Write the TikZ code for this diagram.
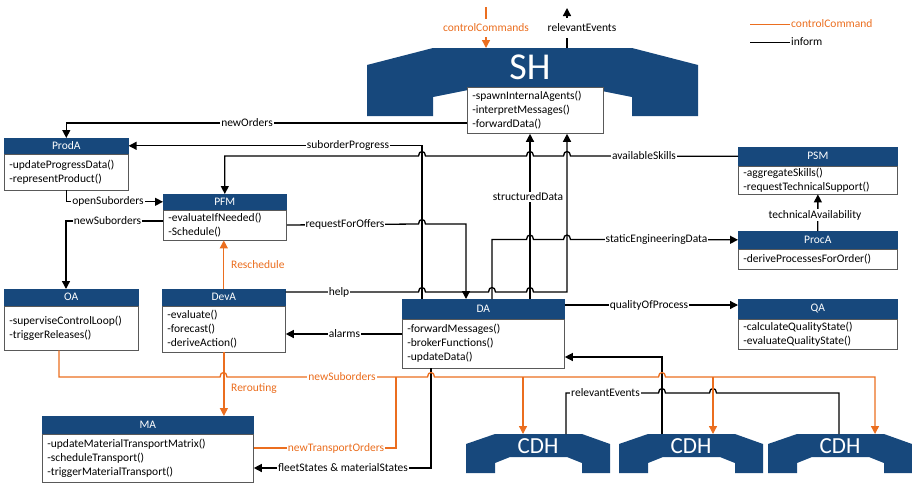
\documentclass[tikz,border=0pt]{standalone}
\usepackage{fontspec}
\setmainfont{Carlito}
\usetikzlibrary{arrows.meta}
\definecolor{blueC}{HTML}{17487C}
\definecolor{orC}{HTML}{EB6E1F}
\definecolor{boxC}{HTML}{595959}
\newcommand\lblfont{\fontsize{11.5}{14}\selectfont}
\newcommand\ClassBox[8]{%
  \node[hdr, minimum width=#4, minimum height=#5] (#1H) at (#2,#3) {#7};
  \pgfmathsetmacro\cbtw{#4-10}%
  \node[body, text width=\cbtw pt, minimum height=#6] (#1) at (#1H.south west) {#8};
}
\newcommand\DrawCDH[2]{%
  \fill[blueC] (#2,444) -- (#2+29,434) -- (#2+116,434) -- (#2+144,444) -- (#2+144,473) -- (#2+116,473) -- (#2+116,463) -- (#2+101,457) -- (#2+44,457) -- (#2+29,463) -- (#2+29,473) -- (#2,473) -- cycle;
  \node[inner sep=0pt, minimum width=144, minimum height=39, anchor=north west] (#1b) at (#2,434) {};
  \node[cdhtxt] (#1) at (#2+72,446) {CDH};
}
\begin{document}
\begin{tikzpicture}[x=1pt,y=-1pt,
  hdr/.style={fill=blueC, draw=blueC, line width=0.6pt, text=white, font=\lblfont, inner sep=0pt, anchor=north west},
  body/.style={draw=boxC, fill=white, line width=0.8pt, font=\lblfont, anchor=north west, align=left, inner xsep=5pt, inner ysep=0pt},
  lab/.style={fill=white, inner xsep=1pt, inner ysep=1pt, font=\lblfont},
  olab/.style={lab, text=orC},
  inf/.style={draw=black, line width=1.3pt},
  ctl/.style={draw=orC, line width=1.3pt},
  arr/.style={-{Triangle[length=8pt,width=8pt]}},
  cdhtxt/.style={text=white, inner sep=0pt, font=\fontsize{23}{26}\selectfont},
  shtxt/.style={text=white, inner sep=0pt, font=\fontsize{38}{42}\selectfont},
]
\useasboundingbox (0,0) rectangle (912,482);

% columns and rows
\coordinate (c59) at (59,0);
\coordinate (c66) at (66,0);
\coordinate (c422) at (422,0);
\coordinate (c431) at (431,0);
\coordinate (c466) at (466,0);
\coordinate (c492) at (492,0);
\coordinate (c523) at (523,0);
\coordinate (c530) at (530,0);
\coordinate (c566) at (566,0);
\coordinate (c567) at (567,0);
\coordinate (c662) at (662,0);
\coordinate (c713) at (713,0);
\coordinate (c839) at (839,0);
\coordinate (c875) at (875,0);
\coordinate (r123) at (0,123);
\coordinate (r221) at (0,221);
\coordinate (r292) at (0,292);
\coordinate (r305) at (0,305);
\coordinate (r334) at (0,334);
\coordinate (r357) at (0,357);
\coordinate (r448) at (0,448);
\coordinate (r468) at (0,468);
\coordinate (ccTop) at (486,7);
\coordinate (reTop) at (567,8);

% SH shape
\fill[blueC] (367,65) -- (433,48) -- (632,48) -- (698,65) -- (698,116) -- (632,116) -- (632,97) -- (587,88) -- (478,88) -- (433,97) -- (433,116) -- (367,116) -- cycle;
\node[inner sep=0pt, minimum width=331, minimum height=68, anchor=north west] (sh) at (367,48) {};
\node[shtxt] (shlabel) at (530,67.5) {SH};
\node[body, text width=126pt, minimum height=46] (shbox) at (467,87) {-spawnInternalAgents()\\-interpretMessages()\\-forwardData()};

% CDH shapes
\DrawCDH{cdha}{466}
\DrawCDH{cdhb}{619}
\DrawCDH{cdhc}{768}

% class boxes
\ClassBox{proda}{4}{138}{124}{15}{36}{ProdA}{-updateProgressData()\\-representProduct()}
\ClassBox{pfm}{163}{194}{123}{15}{30}{PFM}{-evaluateIfNeeded()\\-Schedule()}
\ClassBox{oa}{4}{289}{134}{16}{44}{OA}{-superviseControlLoop()\\-triggerReleases()}
\ClassBox{deva}{162}{289}{123}{16}{46}{DevA}{-evaluate()\\-forecast()\\-deriveAction()}
\ClassBox{da}{402}{299}{162}{19}{49}{DA}{-forwardMessages()\\-brokerFunctions()\\-updateData()}
\ClassBox{ma}{42}{416}{211}{17}{48}{MA}{-updateMaterialTransportMatrix()\\-scheduleTransport()\\-triggerMaterialTransport()}
\ClassBox{psm}{738}{147}{159}{18}{28}{PSM}{-aggregateSkills()\\-requestTechnicalSupport()}
\ClassBox{proca}{738}{231}{159}{17}{20}{ProcA}{-deriveProcessesForOrder()}
\ClassBox{qa}{738}{299}{159}{19}{30}{QA}{-calculateQualityState()\\-evaluateQualityState()}

% connectors (inform)
\draw[inf,arr] (shbox.west |- r123) -| (prodaH.north);
\draw[inf,arr] (daH.north -| c422) |- (prodaH.east);
\draw[inf,arr] (psmH.west) -- (570.5,156) .. controls (570.5,150) and (563.5,150) .. (563.5,156) -- (533.5,156) .. controls (533.5,150) and (526.5,150) .. (526.5,156) -- (425.5,156) .. controls (425.5,150) and (418.5,150) .. (418.5,156) -| (pfmH.north);
\draw[inf,arr] (proda.south) |- (pfmH.west);
\draw[inf,arr] (pfm.west |- r221) -| (oaH.north -| c66);
\draw[inf,arr] (pfm.east) -- (418.5,224) .. controls (418.5,218) and (425.5,218) .. (425.5,224) -| (daH.north -| c466);
\draw[inf,arr] (devaH.east |- r292) -- (418.5,292) .. controls (418.5,286) and (425.5,286) .. (425.5,292) -- (488.5,292) .. controls (488.5,286) and (495.5,286) .. (495.5,292) -- (526.5,292) .. controls (526.5,286) and (533.5,286) .. (533.5,292) -- (567,292) -- (shbox.south -| c567);
\draw[inf,arr] (daH.north -| c530) -- (shbox.south -| c530);
\draw[inf,arr] (daH.north -| c492) -- (492,239.5) -- (526.5,239.5) .. controls (526.5,233.5) and (533.5,233.5) .. (533.5,239.5) -- (563.5,239.5) .. controls (563.5,233.5) and (570.5,233.5) .. (570.5,239.5) -- (procaH.west);
\draw[inf,arr] (procaH.north) -- (psm.south);
\draw[inf,arr] (daH.east |- r305) -- (qaH.west |- r305);
\draw[inf,arr] (da.west |- r334) -- (deva.east |- r334);
\draw[inf,arr] (cdhbb.north -| c662) |- (da.east |- r357);
\draw[inf] (cdhab.north -| c566) -- (566,393) -- (658.5,393) .. controls (658.5,387) and (665.5,387) .. (665.5,393) -- (709.5,393) .. controls (709.5,387) and (716.5,387) .. (716.5,393) -- (839,393) -- (cdhcb.north -| c839);
\draw[inf,arr] (da.south -| c431) |- (ma.east |- r468);
\draw[inf,arr] (sh.north -| reTop) -- (reTop);

% connectors (control)
\draw[ctl,arr] (devaH.north) -- (devaH.north |- pfm.south);
\draw[ctl,arr] (oa.south -| c59) -- (59,377) -- (220,377) .. controls (220,371) and (227,371) .. (227,377) -- (427.5,377) .. controls (427.5,371) and (434.5,371) .. (434.5,377) -- (658.5,377) .. controls (658.5,371) and (665.5,371) .. (665.5,377) -- (875,377) -- (cdhcb.north -| c875);
\draw[ctl] (396,377) |- (ma.east |- r448);
\draw[ctl,arr] (523,377) -- (cdhab.north -| c523);
\draw[ctl,arr] (713,377) -- (cdhbb.north -| c713);
\draw[ctl,arr] (deva.south) -- (deva.south |- maH.north);
\draw[ctl,arr] (ccTop) -- (sh.north -| ccTop);

% labels
\node[olab, inner ysep=5pt] (lCC) at (486,28) {controlCommands};
\node[lab, inner ysep=6pt] (lRE) at (582,28) {relevantEvents};
\node[lab] (lNO) at (247,123) {newOrders};
\node[lab] (lSP) at (348,145.5) {suborderProgress};
\node[lab] (lAS) at (644,156) {availableSkills};
\node[lab] (lOS) at (108,201.5) {openSuborders};
\node[lab] (lNS) at (107.5,221) {newSuborders};
\node[lab] (lRF) at (345,224) {requestForOffers};
\node[lab] (lSD) at (528,197) {structuredData};
\node[lab] (lSE) at (656.5,239.5) {staticEngineeringData};
\node[lab] (lTA) at (815,215) {technicalAvailability};
\node[olab, anchor=west] (lRS) at (230,265) {Reschedule};
\node[lab] (lHE) at (339,292) {help};
\node[lab] (lQP) at (649,305) {qualityOfProcess};
\node[lab] (lAL) at (344.5,334) {alarms};
\node[olab] (lNS2) at (342,377) {newSuborders};
\node[olab, anchor=west] (lRR) at (230,389) {Rerouting};
\node[lab] (lRE2) at (605.5,393) {relevantEvents};
\node[olab] (lNT) at (336,448) {newTransportOrders};
\node[lab] (lFS) at (343,468) {fleetStates \& materialStates};

% legend
\coordinate (lgA1) at (750,24);
\coordinate (lgA2) at (790,24);
\coordinate (lgB1) at (750,42);
\coordinate (lgB2) at (790,42);
\draw[draw=orC, line width=0.9pt] (lgA1) -- (lgA2);
\draw[draw=black, line width=0.9pt] (lgB1) -- (lgB2);
\node[anchor=west, inner sep=1pt, font=\lblfont, text=orC] (lgA) at (lgA2) {controlCommand};
\node[anchor=west, inner sep=1pt, font=\lblfont] (lgB) at (lgB2) {inform};
\end{tikzpicture}
\end{document}
